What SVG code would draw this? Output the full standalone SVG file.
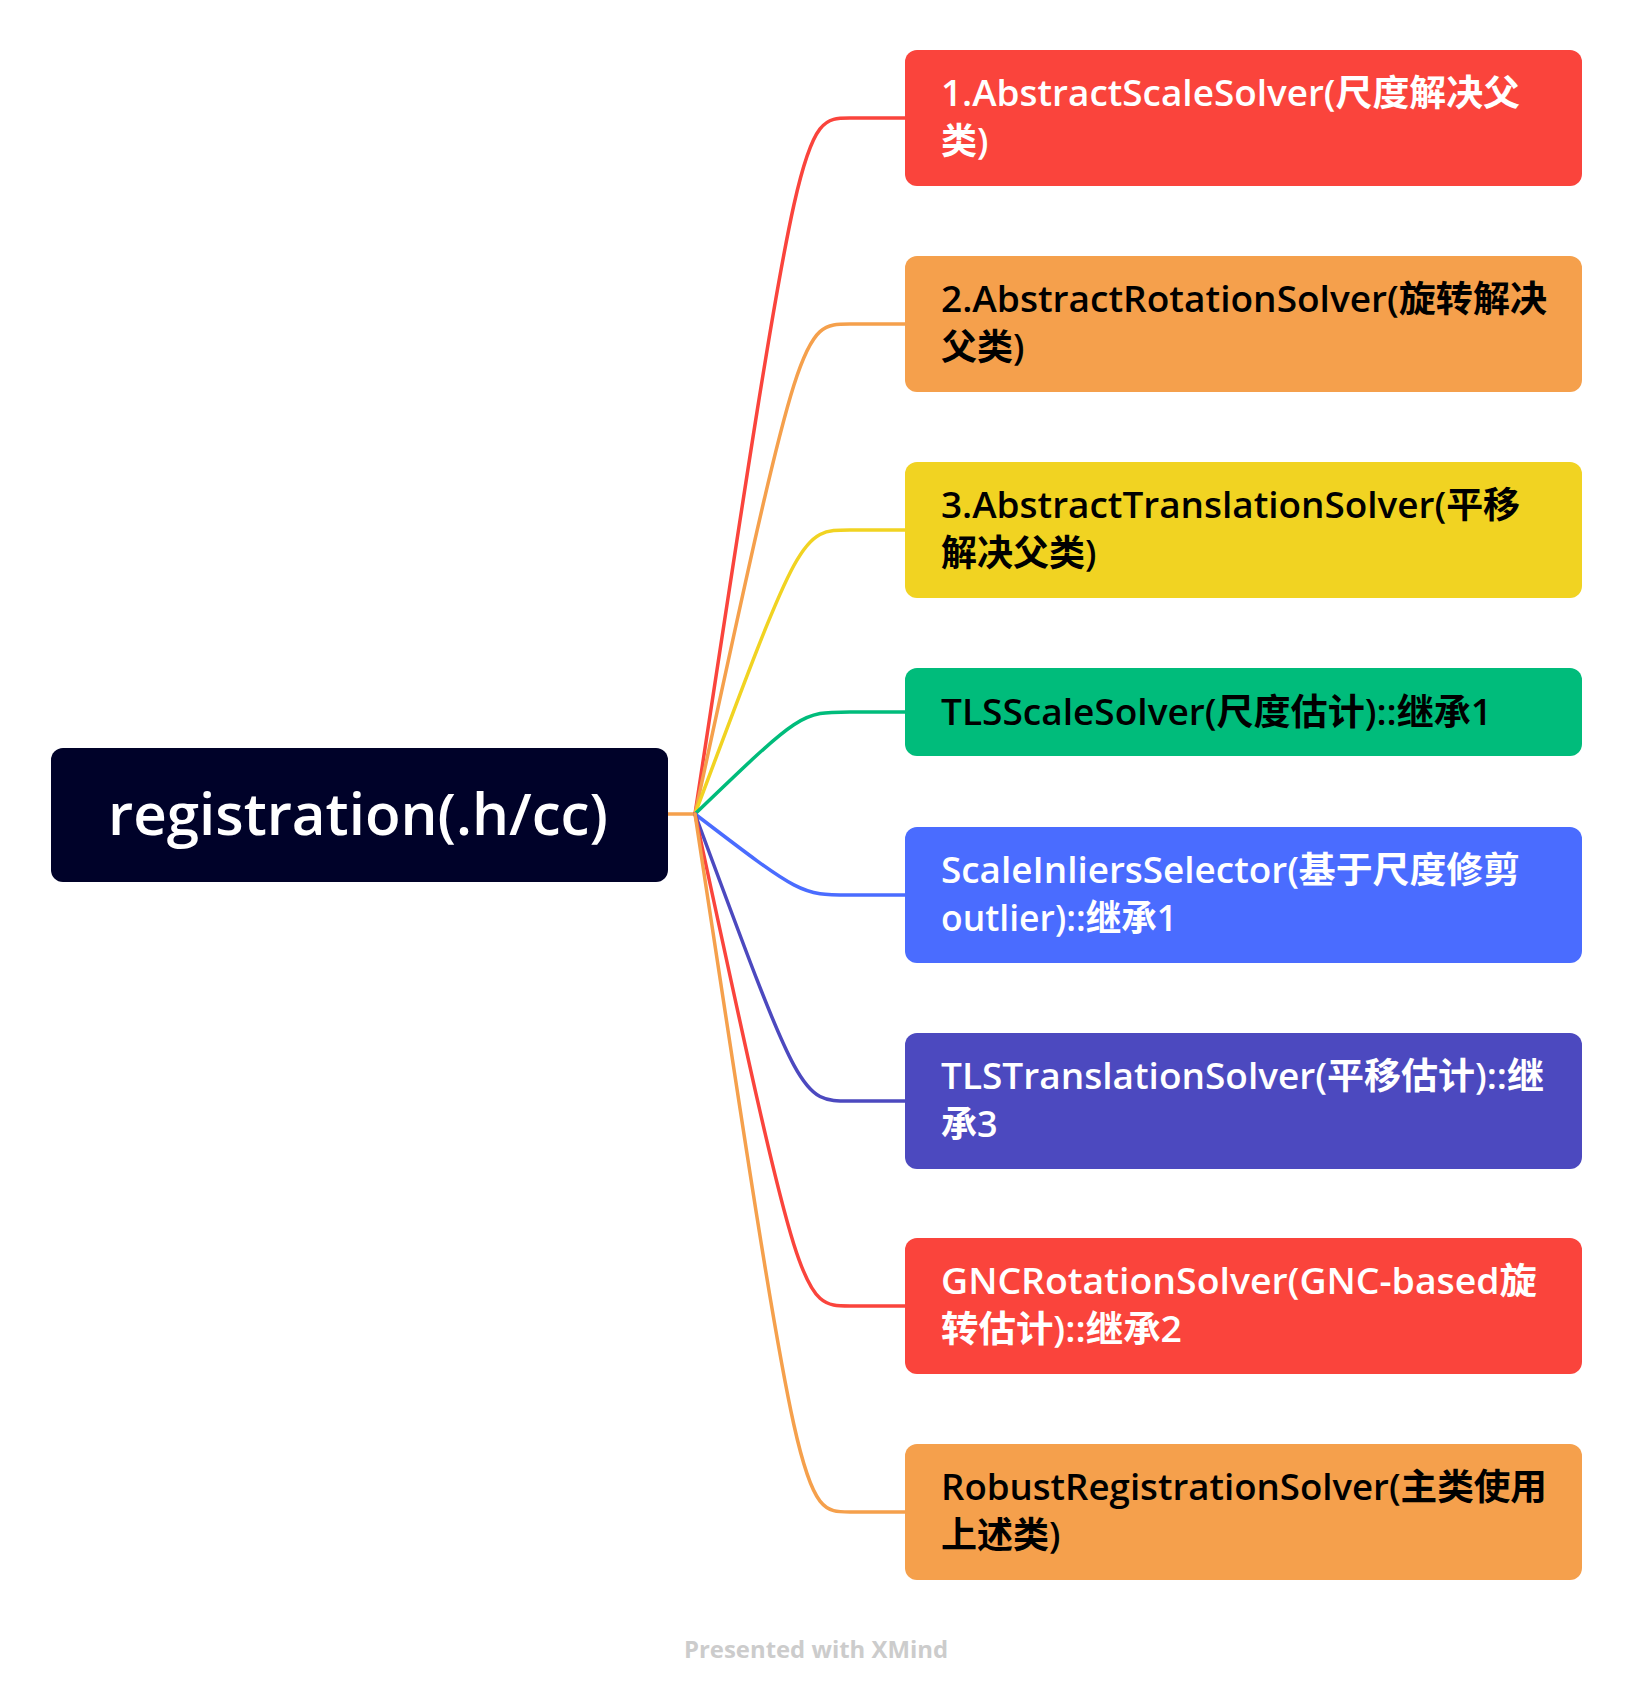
<svg xmlns="http://www.w3.org/2000/svg" width="1632" height="1700" viewBox="0 0 1632 1700">
<style>
.t{font-family:"Open Sans","Noto Sans CJK SC",sans-serif;font-weight:600;font-size:36px}
.w{fill:#FFFFFF}.k{fill:#000000}
.c{fill:none;stroke-width:3.5;stroke-linecap:round}
</style>
<rect width="1632" height="1700" fill="#FFFFFF"/>
<g id="connectors">
<path class="c" stroke="#F5A04C" d="M668 814 L695 814"/>
<path class="c" stroke="#FA443C" d="M695 814 C801 118 801 118 850 118 L905 118"/>
<path class="c" stroke="#F5A04C" d="M695 814 C801 324 801 324 850 324 L905 324"/>
<path class="c" stroke="#F1D322" d="M695 814 C801 530 801 530 850 530 L905 530"/>
<path class="c" stroke="#00BC7B" d="M695 814 C801 712 801 712 850 712 L905 712"/>
<path class="c" stroke="#4A6CFF" d="M695 814 C801 895 801 895 850 895 L905 895"/>
<path class="c" stroke="#4C49BF" d="M695 814 C801 1101 801 1101 850 1101 L905 1101"/>
<path class="c" stroke="#FA443C" d="M695 814 C801 1306 801 1306 850 1306 L905 1306"/>
<path class="c" stroke="#F5A04C" d="M695 814 C801 1512 801 1512 850 1512 L905 1512"/>
</g>
<g id="root">
<rect x="51" y="748" width="617" height="134" rx="12" fill="#000229"/>
<text x="108" y="835" font-family="Open Sans, sans-serif" font-weight="600" font-size="58" fill="#FFFFFF" textLength="500" lengthAdjust="spacingAndGlyphs">registration(.h/cc)</text>
</g>
<g id="node1">
<rect x="905" y="50" width="677" height="136" rx="12" fill="#FA443C"/>
<text class="t w" x="941" y="106" textLength="579" lengthAdjust="spacingAndGlyphs">1.AbstractScaleSolver(尺度解决父</text>
<text class="t w" x="941" y="154">类)</text>
</g>
<g id="node2">
<rect x="905" y="256" width="677" height="136" rx="12" fill="#F5A04C"/>
<text class="t k" x="941" y="312" textLength="606" lengthAdjust="spacingAndGlyphs">2.AbstractRotationSolver(旋转解决</text>
<text class="t k" x="941" y="360">父类)</text>
</g>
<g id="node3">
<rect x="905" y="462" width="677" height="136" rx="12" fill="#F1D322"/>
<text class="t k" x="941" y="518" textLength="579" lengthAdjust="spacingAndGlyphs">3.AbstractTranslationSolver(平移</text>
<text class="t k" x="941" y="566">解决父类)</text>
</g>
<g id="node4">
<rect x="905" y="668" width="677" height="88" rx="12" fill="#00BC7B"/>
<text class="t k" x="941" y="725" textLength="551" lengthAdjust="spacingAndGlyphs">TLSScaleSolver(尺度估计)::继承1</text>
</g>
<g id="node5">
<rect x="905" y="827" width="677" height="136" rx="12" fill="#4A6CFF"/>
<text class="t w" x="941" y="883" textLength="579" lengthAdjust="spacingAndGlyphs">ScaleInliersSelector(基于尺度修剪</text>
<text class="t w" x="941" y="931" textLength="236" lengthAdjust="spacingAndGlyphs">outlier)::继承1</text>
</g>
<g id="node6">
<rect x="905" y="1033" width="677" height="136" rx="12" fill="#4C49BF"/>
<text class="t w" x="941" y="1089" textLength="603" lengthAdjust="spacingAndGlyphs">TLSTranslationSolver(平移估计)::继</text>
<text class="t w" x="941" y="1137">承3</text>
</g>
<g id="node7">
<rect x="905" y="1238" width="677" height="136" rx="12" fill="#FA443C"/>
<text class="t w" x="941" y="1294" textLength="596" lengthAdjust="spacingAndGlyphs">GNCRotationSolver(GNC-based旋</text>
<text class="t w" x="941" y="1342" textLength="241" lengthAdjust="spacingAndGlyphs">转估计)::继承2</text>
</g>
<g id="node8">
<rect x="905" y="1444" width="677" height="136" rx="12" fill="#F5A04C"/>
<text class="t k" x="941" y="1500" textLength="606" lengthAdjust="spacingAndGlyphs">RobustRegistrationSolver(主类使用</text>
<text class="t k" x="941" y="1548">上述类)</text>
</g>
<text x="816" y="1658" text-anchor="middle" font-family="Open Sans, sans-serif" font-weight="700" font-size="24" fill="#CCCCCC" textLength="264" lengthAdjust="spacingAndGlyphs">Presented with XMind</text>
</svg>
